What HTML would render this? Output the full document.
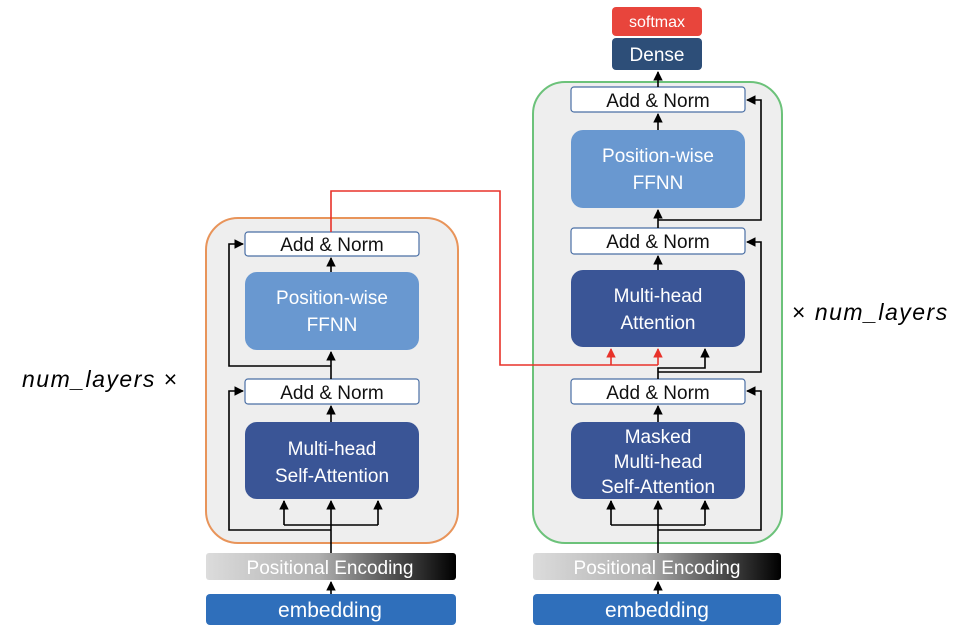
<!DOCTYPE html>
<html><head><meta charset="utf-8"><style>
body{margin:0;background:#fff}
svg{display:block}
text{font-family:"Liberation Sans",sans-serif}
</style></head><body>
<svg width="978" height="634" viewBox="0 0 978 634" xmlns="http://www.w3.org/2000/svg">
<defs>
<marker id="a" viewBox="0 0 10 10" refX="9" refY="5" markerWidth="6" markerHeight="6" orient="auto"><path d="M0,0L10,5L0,10z" fill="#000"/></marker>
<marker id="r" viewBox="0 0 10 10" refX="9" refY="5" markerWidth="6" markerHeight="6" orient="auto"><path d="M0,0L10,5L0,10z" fill="#e8322a"/></marker>
<linearGradient id="pe" x1="0" x2="1"><stop offset="0" stop-color="#dcdcdc"/><stop offset="0.45" stop-color="#b0b0b0"/><stop offset="1" stop-color="#000"/></linearGradient>
</defs>
<rect x="206" y="218" width="252" height="325" rx="32" fill="#eeeeee" stroke="#e8945a" stroke-width="2"/>
<rect x="533" y="82" width="249" height="461" rx="32" fill="#eeeeee" stroke="#6cc27a" stroke-width="2"/>

<g font-size="19" text-anchor="middle">
<rect x="245" y="232" width="174" height="24" rx="3" fill="#fff" stroke="#4a6fa5" stroke-width="1.2"/>
<text x="332" y="251" fill="#111">Add &amp; Norm</text>
<rect x="245" y="272" width="174" height="78" rx="12" fill="#6998d0"/>
<text x="332" y="304" fill="#fff">Position-wise</text><text x="332" y="331" fill="#fff">FFNN</text>
<rect x="245" y="379" width="174" height="25" rx="3" fill="#fff" stroke="#4a6fa5" stroke-width="1.2"/>
<text x="332" y="399" fill="#111">Add &amp; Norm</text>
<rect x="245" y="422" width="174" height="77" rx="12" fill="#3a5596"/>
<text x="332" y="455" fill="#fff">Multi-head</text><text x="332" y="482" fill="#fff">Self-Attention</text>
<rect x="206" y="553" width="250" height="27" rx="3" fill="url(#pe)"/>
<text x="330" y="574" fill="#fff">Positional Encoding</text>
<rect x="206" y="594" width="250" height="31" rx="4" fill="#2f6fbb"/>
<text x="330" y="617" fill="#fff" font-size="21">embedding</text>

<rect x="612" y="7" width="90" height="29" rx="4" fill="#e8453c"/>
<text x="657" y="27" fill="#fff" font-size="16">softmax</text>
<rect x="612" y="38" width="90" height="32" rx="4" fill="#2d4e78"/>
<text x="657" y="61" fill="#fff">Dense</text>
<rect x="571" y="87" width="174" height="25" rx="3" fill="#fff" stroke="#4a6fa5" stroke-width="1.2"/>
<text x="658" y="107" fill="#111">Add &amp; Norm</text>
<rect x="571" y="130" width="174" height="78" rx="12" fill="#6998d0"/>
<text x="658" y="162" fill="#fff">Position-wise</text><text x="658" y="189" fill="#fff">FFNN</text>
<rect x="571" y="228" width="174" height="26" rx="3" fill="#fff" stroke="#4a6fa5" stroke-width="1.2"/>
<text x="658" y="248" fill="#111">Add &amp; Norm</text>
<rect x="571" y="270" width="174" height="77" rx="12" fill="#3a5596"/>
<text x="658" y="302" fill="#fff">Multi-head</text><text x="658" y="329" fill="#fff">Attention</text>
<rect x="571" y="379" width="174" height="25" rx="3" fill="#fff" stroke="#4a6fa5" stroke-width="1.2"/>
<text x="658" y="399" fill="#111">Add &amp; Norm</text>
<rect x="571" y="422" width="174" height="77" rx="12" fill="#3a5596"/>
<text x="658" y="443" fill="#fff">Masked</text><text x="658" y="468" fill="#fff">Multi-head</text><text x="658" y="493" fill="#fff">Self-Attention</text>
<rect x="533" y="553" width="248" height="27" rx="3" fill="url(#pe)"/>
<text x="657" y="574" fill="#fff">Positional Encoding</text>
<rect x="533" y="594" width="248" height="31" rx="4" fill="#2f6fbb"/>
<text x="657" y="617" fill="#fff" font-size="21">embedding</text>
</g>

<g stroke="#000" stroke-width="1.6" fill="none">
<path d="M331 594V582" marker-end="url(#a)"/>
<path d="M331 553V501" marker-end="url(#a)"/>
<path d="M284 525H378M284 525V501M378 525V501" />
<path d="M284 510V501" marker-end="url(#a)"/><path d="M378 510V501" marker-end="url(#a)"/>
<path d="M331 530H229V391H243" marker-end="url(#a)"/>
<path d="M331 422V406" marker-end="url(#a)"/>
<path d="M331 379V352" marker-end="url(#a)"/>
<path d="M331 366H229V244H243" marker-end="url(#a)"/>
<path d="M331 272V258" marker-end="url(#a)"/>
<path d="M658 594V582" marker-end="url(#a)"/>
<path d="M658 553V501" marker-end="url(#a)"/>
<path d="M611 525H705M611 525V501M705 525V501"/>
<path d="M611 510V501" marker-end="url(#a)"/><path d="M705 510V501" marker-end="url(#a)"/>
<path d="M658 530H761V391H747" marker-end="url(#a)"/>
<path d="M658 422V406" marker-end="url(#a)"/>
<path d="M658 379V368H705V349" marker-end="url(#a)"/>
<path d="M658 372H761V242H747" marker-end="url(#a)"/>
<path d="M658 270V256" marker-end="url(#a)"/>
<path d="M658 228V210" marker-end="url(#a)"/>
<path d="M658 220H761V100H747" marker-end="url(#a)"/>
<path d="M658 130V114" marker-end="url(#a)"/>
<path d="M658 87V72" marker-end="url(#a)"/>
</g>
<g stroke="#e8322a" stroke-width="1.6" fill="none">
<path d="M331 232V191H500V365H658"/>
<path d="M611 365V349" marker-end="url(#r)"/>
<path d="M658 365V349" marker-end="url(#r)"/>
</g>
<text x="22" y="387" font-family="Liberation Serif,serif" font-size="23" font-style="italic" letter-spacing="1.5">num_layers <tspan font-style="normal">×</tspan></text>
<text x="792" y="320" font-family="Liberation Serif,serif" font-size="23" font-style="italic" letter-spacing="1.5"><tspan font-style="normal">×</tspan> num_layers</text>
</svg>
</body></html>
